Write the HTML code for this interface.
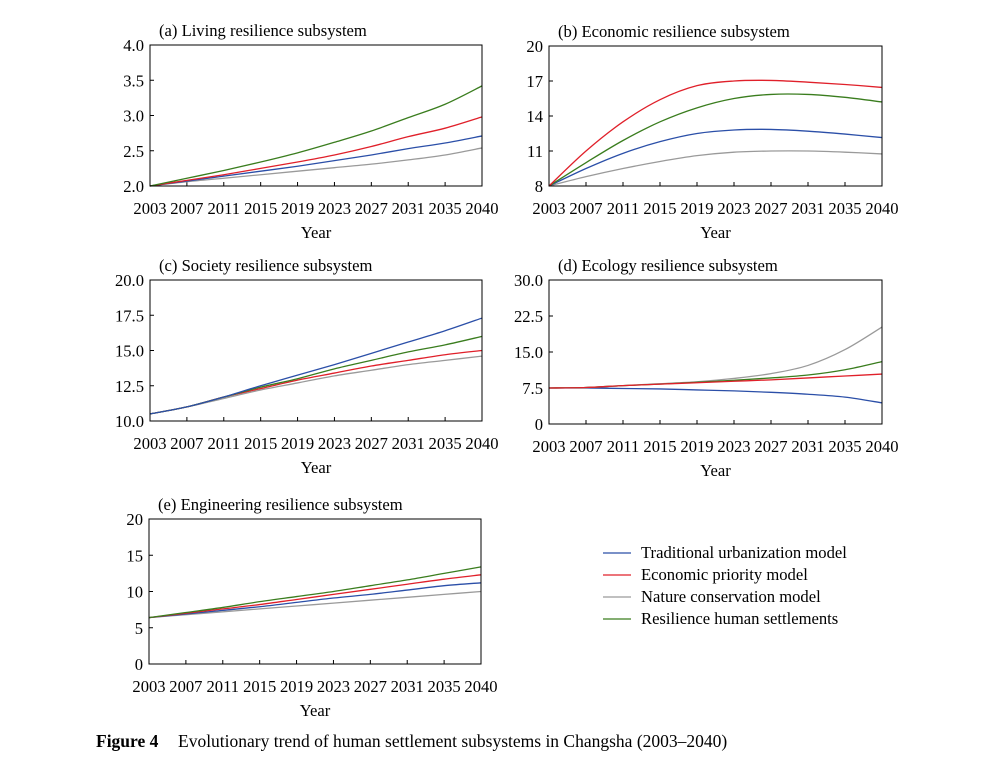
<!DOCTYPE html>
<html><head><meta charset="utf-8"><style>
body{margin:0;background:#fff;}
svg{display:block;font-family:"Liberation Serif",serif;}
</style></head><body>
<svg id="s" width="998" height="769" xmlns="http://www.w3.org/2000/svg">
<g font-size="17.5" fill="#000">
<text x="96" y="747" font-weight="bold">Figure 4</text>
<text x="178" y="747">Evolutionary trend of human settlement subsystems in Changsha (2003–2040)</text>
</g>
<g font-size="16.6">
<line x1="603" y1="553" x2="631" y2="553" stroke="#2b4fa8" stroke-width="1.3"/><text x="641" y="558">Traditional urbanization model</text>
<line x1="603" y1="575" x2="631" y2="575" stroke="#e0202a" stroke-width="1.3"/><text x="641" y="580">Economic priority model</text>
<line x1="603" y1="597" x2="631" y2="597" stroke="#9a9a9a" stroke-width="1.3"/><text x="641" y="602">Nature conservation model</text>
<line x1="603" y1="619" x2="631" y2="619" stroke="#3a7d1e" stroke-width="1.3"/><text x="641" y="624">Resilience human settlements</text>
</g>
</svg>
<script>
var s=document.getElementById('s'),NS='http://www.w3.org/2000/svg';
function el(t,a,txt){var e=document.createElementNS(NS,t);for(var k in a)e.setAttribute(k,a[k]);if(txt!==undefined)e.textContent=txt;s.appendChild(e);return e;}
var C={b:'#2b4fa8',r:'#e0202a',g:'#9a9a9a',G:'#3a7d1e'};
var years=['2003','2007','2011','2015','2019','2023','2027','2031','2035','2040'];
var FS='16.6';
var P=[
{x0:150,x1:482,y0:45,y1:186,min:2,max:4,yt:['2.0','2.5','3.0','3.5','4.0'],title:'(a) Living resilience subsystem',
 s:{g:[2,2.06,2.11,2.16,2.21,2.26,2.31,2.37,2.44,2.54],b:[2,2.07,2.14,2.21,2.28,2.36,2.44,2.53,2.61,2.71],r:[2,2.08,2.16,2.25,2.34,2.44,2.56,2.7,2.82,2.98],G:[2,2.11,2.22,2.34,2.47,2.62,2.78,2.97,3.16,3.42]}},
{x0:549,x1:882,y0:46,y1:186,min:8,max:20,yt:['8','11','14','17','20'],title:'(b) Economic resilience subsystem',
 s:{g:[8,8.8,9.5,10.1,10.6,10.9,11.0,11.0,10.9,10.75],b:[8,9.5,10.8,11.8,12.5,12.8,12.85,12.7,12.45,12.15],G:[8,10,11.9,13.5,14.7,15.5,15.85,15.85,15.6,15.2],r:[8,11,13.5,15.4,16.6,17.0,17.05,16.9,16.7,16.45]}},
{x0:150,x1:482,y0:280,y1:421,min:10,max:20,yt:['10.0','12.5','15.0','17.5','20.0'],title:'(c) Society resilience subsystem',
 s:{g:[10.5,11.0,11.6,12.2,12.7,13.2,13.6,14.0,14.3,14.6],r:[10.5,11.0,11.7,12.3,12.9,13.4,13.9,14.3,14.7,15.0],G:[10.5,11.0,11.7,12.4,13.0,13.7,14.3,14.9,15.4,16.0],b:[10.5,11.0,11.7,12.5,13.25,14.0,14.8,15.6,16.4,17.3]}},
{x0:549,x1:882,y0:280,y1:424,min:0,max:30,yt:['0','7.5','15.0','22.5','30.0'],title:'(d) Ecology resilience subsystem',
 s:{b:[7.5,7.5,7.4,7.3,7.1,6.9,6.6,6.2,5.6,4.4],g:[7.5,7.6,8.0,8.4,8.8,9.5,10.5,12.2,15.5,20.2],G:[7.5,7.6,8.0,8.3,8.7,9.1,9.6,10.2,11.3,13.0],r:[7.5,7.6,8.0,8.3,8.6,8.9,9.2,9.6,10.0,10.4]}},
{x0:149,x1:481,y0:519,y1:664,min:0,max:20,yt:['0','5','10','15','20'],title:'(e) Engineering resilience subsystem',
 s:{g:[6.4,6.8,7.2,7.6,8.0,8.4,8.8,9.2,9.6,10.0],b:[6.4,6.9,7.4,7.9,8.5,9.1,9.6,10.2,10.8,11.2],r:[6.4,7.0,7.6,8.2,8.9,9.6,10.3,11.0,11.7,12.3],G:[6.4,7.1,7.8,8.6,9.3,10.0,10.8,11.6,12.5,13.4]}}
];
P.forEach(function(p){
 var w=p.x1-p.x0,h=p.y1-p.y0;
 el('text',{x:p.x0+9,y:p.y0-9,'font-size':FS},p.title);
 for(var i=0;i<10;i++){var x=p.x0+w*i/9;
  el('text',{x:x,y:p.y1+28,'font-size':FS,'text-anchor':'middle'},years[i]);
  if(i>0&&i<9)el('line',{x1:x,y1:p.y1,x2:x,y2:p.y1-4,stroke:'#000','stroke-width':1});}
 for(var j=0;j<5;j++){var y=p.y1-h*j/4;
  el('text',{x:p.x0-6,y:y+6,'font-size':FS,'text-anchor':'end'},p.yt[j]);
  if(j>0&&j<4)el('line',{x1:p.x0,y1:y,x2:p.x0+4,y2:y,stroke:'#000','stroke-width':1});}
 el('text',{x:(p.x0+p.x1)/2,y:p.y1+52,'font-size':FS,'text-anchor':'middle'},'Year');
 for(var k in p.s){var v=p.s[k],pts=v.map(function(val,i){return [p.x0+w*i/9,p.y1-h*(val-p.min)/(p.max-p.min)];});
  var d='M'+pts[0][0]+','+pts[0][1];
  for(var i=0;i<pts.length-1;i++){var a=pts[Math.max(0,i-1)],b=pts[i],c=pts[i+1],e=pts[Math.min(pts.length-1,i+2)];
   d+=' C'+(b[0]+(c[0]-a[0])/6)+','+(b[1]+(c[1]-a[1])/6)+' '+(c[0]-(e[0]-b[0])/6)+','+(c[1]-(e[1]-b[1])/6)+' '+c[0]+','+c[1];}
  el('path',{d:d,fill:'none',stroke:C[k],'stroke-width':1.3});}
 el('rect',{x:p.x0,y:p.y0,width:w,height:h,fill:'none',stroke:'#000','stroke-width':1});
});
</script>
</body></html>
